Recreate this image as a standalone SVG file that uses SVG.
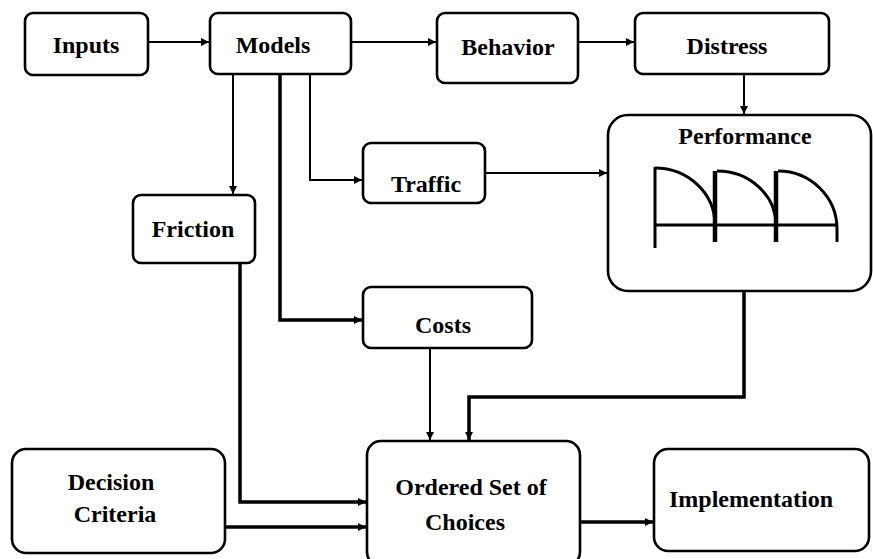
<svg xmlns="http://www.w3.org/2000/svg" width="873" height="559" viewBox="0 0 873 559">
<defs>
<marker id="ah" viewBox="0 0 10 10" refX="10" refY="5" markerWidth="9" markerHeight="8" markerUnits="userSpaceOnUse" orient="auto">
<path d="M0,0 L10,5 L0,10 z" fill="#000"/>
</marker>
<style>
.box{fill:#fff;stroke:#000;stroke-width:2.6}
.t{font-family:"Liberation Serif","Times New Roman",serif;font-weight:bold;font-size:24px;fill:#000;text-anchor:middle}
.c{fill:none;stroke:#000;stroke-width:2}
.ct{fill:none;stroke:#000;stroke-width:3.5}
.ch{fill:none;stroke:#000;stroke-width:3}
</style>
</defs>
<rect width="873" height="559" fill="#fff"/>
<g id="connectors">
<path class="c" d="M148,42 H209" marker-end="url(#ah)"/>
<path class="c" d="M351,42 H436" marker-end="url(#ah)"/>
<path class="c" d="M578,42 H634" marker-end="url(#ah)"/>
<path class="c" d="M744,74 V114" marker-end="url(#ah)"/>
<path class="c" d="M233,74 V194" marker-end="url(#ah)"/>
<path class="c" d="M310,74 V180 H362" marker-end="url(#ah)"/>
<path class="ct" d="M280,74 V320 H362" marker-end="url(#ah)"/>
<path class="c" d="M485,173 H607" marker-end="url(#ah)"/>
<path class="c" d="M430,348 V440" marker-end="url(#ah)"/>
<path class="ct" d="M744,291 V397 H469 V440" marker-end="url(#ah)"/>
<path class="ct" d="M240,263 V502 H366" marker-end="url(#ah)"/>
<path class="ct" d="M225,527 H366" marker-end="url(#ah)"/>
<path class="ct" d="M581,522 H653" marker-end="url(#ah)"/>
</g>
<g id="inputs"><rect class="box" x="25" y="13" width="123" height="62" rx="8"/><text class="t" x="86" y="53">Inputs</text></g>
<g id="models"><rect class="box" x="210" y="13" width="141" height="61" rx="8"/><text class="t" x="273" y="53">Models</text></g>
<g id="behavior"><rect class="box" x="437" y="13" width="141" height="70" rx="8"/><text class="t" x="508" y="55">Behavior</text></g>
<g id="distress"><rect class="box" x="635" y="13" width="194" height="61" rx="8"/><text class="t" x="727" y="54">Distress</text></g>
<g id="traffic"><rect class="box" x="363" y="143" width="122" height="60" rx="8"/><text class="t" x="426" y="192">Traffic</text></g>
<g id="friction"><rect class="box" x="133" y="195" width="122" height="68" rx="8"/><text class="t" x="193" y="237">Friction</text></g>
<g id="costs"><rect class="box" x="363" y="287" width="169" height="61" rx="8"/><text class="t" x="443" y="333">Costs</text></g>
<g id="performance">
<rect class="box" x="608" y="115" width="263" height="176" rx="20"/>
<text class="t" x="745" y="144">Performance</text>
<path class="ch" d="M655,167 V248 M655,225 H837"/>
<path class="ch" d="M655,168 A60,57 0 0 1 715,225"/>
<path class="ch" d="M717,171 A59,54 0 0 1 776,225"/>
<path class="ch" d="M778,171 A59,58 0 0 1 837,229 V242"/>
<path fill="none" stroke="#000" stroke-width="4.5" d="M715,171 V242 M776,171 V242"/>
</g>
<g id="decision"><rect class="box" x="12" y="449" width="213" height="104" rx="14"/><text class="t" x="111" y="490">Decision</text><text class="t" x="115" y="522">Criteria</text></g>
<g id="ordered"><rect class="box" x="367" y="441" width="213" height="125" rx="14"/><text class="t" x="471" y="495">Ordered Set of</text><text class="t" x="465" y="530">Choices</text></g>
<g id="implementation"><rect class="box" x="654" y="449" width="215" height="102" rx="14"/><text class="t" x="751" y="507">Implementation</text></g>
</svg>
